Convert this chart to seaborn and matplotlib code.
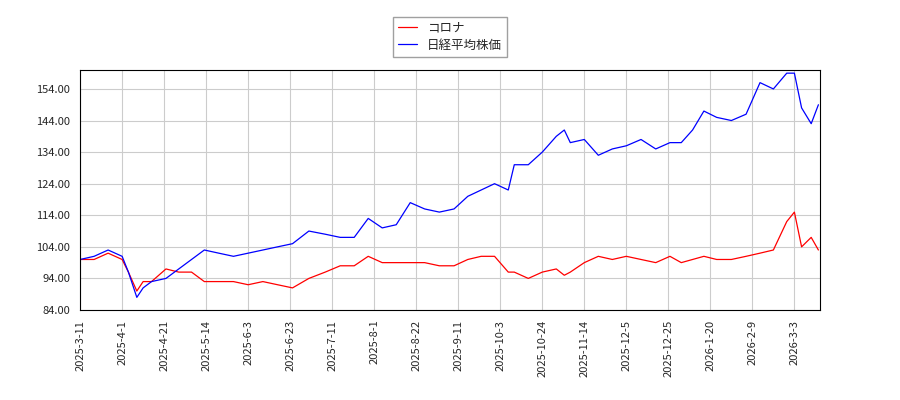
import matplotlib
matplotlib.use("Agg")
import matplotlib.pyplot as plt
import seaborn as sns
import pandas as pd
import numpy as np

dates = ["2025-03-11","2025-03-18","2025-03-25","2025-04-01","2025-04-04","2025-04-08","2025-04-11","2025-04-15","2025-04-22","2025-04-29",
"2025-05-06","2025-05-13","2025-05-20","2025-05-27","2025-06-03","2025-06-10","2025-06-17","2025-06-24","2025-07-01","2025-07-08",
"2025-07-15","2025-07-22","2025-07-29","2025-08-05","2025-08-12","2025-08-19","2025-08-26","2025-09-02","2025-09-09","2025-09-16",
"2025-09-23","2025-09-30","2025-10-07","2025-10-10","2025-10-17","2025-10-24","2025-10-31","2025-11-04","2025-11-07","2025-11-14",
"2025-11-21","2025-11-28","2025-12-05","2025-12-12","2025-12-19","2025-12-26","2026-01-02","2026-01-09","2026-01-16","2026-01-23",
"2026-01-30","2026-02-06","2026-02-13","2026-02-20","2026-02-27","2026-03-03","2026-03-06","2026-03-10","2026-03-13"]
nikkei = [100,101,103,101,96,88,91,93,94,97,100,103,102,101,102,103,104,105,109,108,107,107,113,110,111,118,116,115,116,120,
122,124,122,130,130,134,139,141,137,138,133,135,136,138,135,137,137,141,147,145,144,146,156,154,159,159,148,143,149]
corona = [100,100,102,100,96,90,93,93,97,96,96,93,93,93,92,93,92,91,94,96,98,98,101,99,99,99,99,98,98,100,
101,101,96,96,94,96,97,95,96,99,101,100,101,100,99,101,99,100,101,100,100,101,102,103,112,115,104,107,103]
tick_dates = ["2025-03-11","2025-04-01","2025-04-21","2025-05-14","2025-06-03","2025-06-23","2025-07-11","2025-08-01",
"2025-08-22","2025-09-11","2025-10-03","2025-10-24","2025-11-14","2025-12-05","2025-12-25","2026-01-20","2026-02-09","2026-03-03"]

# trading-day index axis: tick dates are every 14 trading days
td = pd.to_datetime(tick_dates)
tick_pos = np.arange(len(td)) * 14
ext_ord = list(td.map(pd.Timestamp.toordinal)) + [pd.Timestamp("2026-03-13").toordinal()]
ext_pos = list(tick_pos) + [tick_pos[-1] + 8]
d = pd.to_datetime(dates)
xpos = np.interp(d.map(pd.Timestamp.toordinal), ext_ord, ext_pos)

df = pd.DataFrame({"x": xpos, "コロナ": corona, "日経平均株価": nikkei})
long = df.melt(id_vars="x", var_name="series", value_name="value")

sns.set_style("white")
plt.rcParams['font.family'] = ['Noto Sans CJK JP', 'DejaVu Sans']
fig = plt.figure(figsize=(9, 4), dpi=100)
ax = fig.add_axes([0.089, 0.225, 0.822, 0.6])
sns.lineplot(data=long, x="x", y="value", hue="series", palette={"コロナ": "red", "日経平均株価": "blue"},
             linewidth=0.9, ax=ax)
ax.set_xticks(tick_pos)
ax.set_xticklabels([f"{t.year}-{t.month}-{t.day}" for t in td], rotation=90, fontsize=8)
yt = np.arange(84, 160, 10)
ax.set_yticks(yt)
ax.set_yticklabels([f"{v:.2f}" for v in yt], fontsize=8)
ax.set_xlim(0, tick_pos[-1] + 8.5)
ax.set_ylim(84, 160)
ax.grid(True, color="#cccccc", linewidth=0.8)
ax.set_xlabel(""); ax.set_ylabel("")
for s in ax.spines.values():
    s.set_color("black"); s.set_linewidth(0.8)
ax.legend(title=None, loc="lower center", bbox_to_anchor=(0.5, 1.03), fontsize=9, fancybox=False,
          edgecolor="#888888", handlelength=1.5, borderpad=0.4, labelspacing=0.3)
fig.savefig("out.png")
